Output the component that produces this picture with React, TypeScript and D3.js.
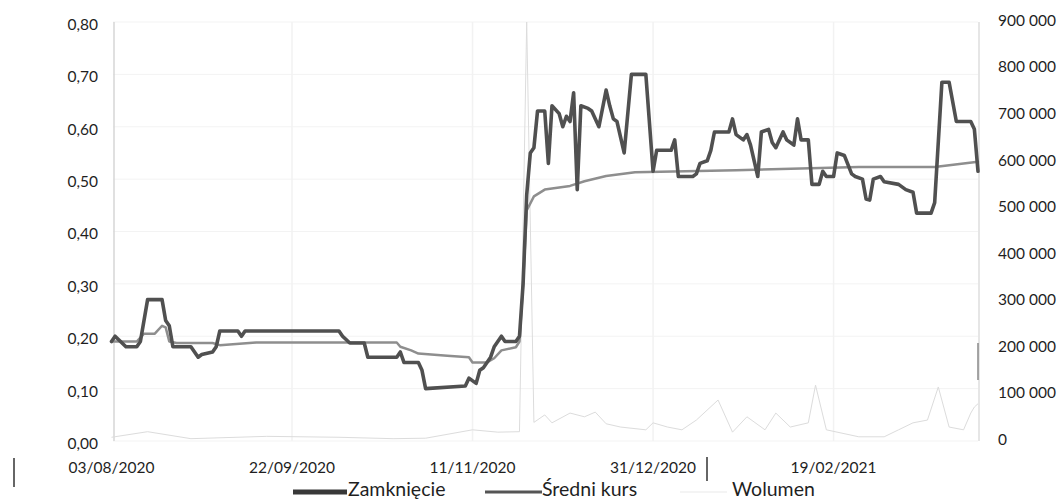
import React from "react";
import * as d3 from "d3";

// ---------- data ----------
const closeDates = [
  "2020-08-03","2020-08-04","2020-08-07","2020-08-10","2020-08-11","2020-08-13","2020-08-17","2020-08-18","2020-08-19","2020-08-20",
  "2020-08-25","2020-08-27","2020-08-28","2020-08-31","2020-09-01","2020-09-02","2020-09-07","2020-09-08","2020-09-09","2020-10-05",
  "2020-10-06","2020-10-08","2020-10-12","2020-10-13","2020-10-21","2020-10-22","2020-10-23","2020-10-27","2020-10-28","2020-10-29",
  "2020-11-09","2020-11-10","2020-11-12","2020-11-13","2020-11-14","2020-11-16","2020-11-17","2020-11-19","2020-11-20","2020-11-23",
  "2020-11-24","2020-11-25","2020-11-26","2020-11-27","2020-11-28","2020-11-29","2020-12-01","2020-12-02","2020-12-03","2020-12-05",
  "2020-12-06","2020-12-07","2020-12-08","2020-12-09","2020-12-10","2020-12-11","2020-12-13","2020-12-14","2020-12-16","2020-12-18",
  "2020-12-19","2020-12-20","2020-12-21","2020-12-23","2020-12-25","2020-12-29","2020-12-31","2021-01-01","2021-01-05","2021-01-06",
  "2021-01-07","2021-01-11","2021-01-12","2021-01-13","2021-01-15","2021-01-16","2021-01-17","2021-01-21","2021-01-22","2021-01-23",
  "2021-01-25","2021-01-26","2021-01-27","2021-01-29","2021-01-30","2021-02-01","2021-02-02","2021-02-03","2021-02-05","2021-02-06",
  "2021-02-08","2021-02-09","2021-02-10","2021-02-12","2021-02-13","2021-02-15","2021-02-16","2021-02-17","2021-02-19","2021-02-20",
  "2021-02-22","2021-02-24","2021-02-25","2021-02-27","2021-02-28","2021-03-01","2021-03-02","2021-03-04","2021-03-05","2021-03-09",
  "2021-03-11","2021-03-13","2021-03-14","2021-03-18","2021-03-19","2021-03-21","2021-03-23","2021-03-25","2021-03-29","2021-03-30",
  "2021-03-31",
];
const closeValues = [
  0.19,0.20,0.18,0.18,0.19,0.27,0.27,0.23,0.22,0.18,
  0.18,0.16,0.165,0.17,0.18,0.21,0.21,0.20,0.21,0.21,
  0.20,0.187,0.187,0.16,0.16,0.17,0.15,0.15,0.135,0.10,
  0.105,0.12,0.11,0.135,0.14,0.16,0.18,0.20,0.19,0.19,
  0.20,0.30,0.47,0.55,0.56,0.63,0.63,0.53,0.64,0.625,
  0.60,0.62,0.61,0.665,0.48,0.64,0.635,0.63,0.60,0.67,
  0.64,0.615,0.61,0.55,0.70,0.70,0.515,0.555,0.555,0.575,
  0.505,0.505,0.51,0.53,0.535,0.555,0.59,0.59,0.615,0.585,
  0.575,0.585,0.565,0.505,0.59,0.595,0.57,0.56,0.59,0.575,
  0.565,0.615,0.575,0.575,0.49,0.49,0.515,0.505,0.505,0.55,
  0.545,0.51,0.505,0.50,0.462,0.46,0.50,0.505,0.495,0.49,
  0.48,0.475,0.435,0.435,0.455,0.685,0.685,0.61,0.61,0.595,
  0.515,
];

const avgDates = [
  "2020-08-03","2020-08-10","2020-08-12","2020-08-15","2020-08-17","2020-08-18","2020-08-19","2020-08-21","2020-08-31","2020-09-02",
  "2020-09-12","2020-10-21","2020-10-22","2020-10-25","2020-10-27","2020-11-04","2020-11-10","2020-11-11","2020-11-15","2020-11-17",
  "2020-11-19","2020-11-23","2020-11-24","2020-11-25","2020-11-26","2020-11-28","2020-12-01","2020-12-08","2020-12-12","2020-12-18",
  "2020-12-26","2021-01-09","2021-01-23","2021-02-26","2021-03-19","2021-03-31",
];
const avgValues = [
  0.19,0.19,0.205,0.205,0.22,0.217,0.19,0.187,0.187,0.183,
  0.188,0.188,0.18,0.173,0.167,0.163,0.16,0.15,0.15,0.158,
  0.173,0.179,0.19,0.30,0.44,0.467,0.48,0.487,0.496,0.506,
  0.513,0.515,0.517,0.523,0.523,0.533,
];

const volDates = [
  "2020-08-03","2020-08-13","2020-08-25","2020-09-15","2020-10-05","2020-10-20","2020-10-29","2020-11-11","2020-11-18","2020-11-24",
  "2020-11-26","2020-11-28","2020-12-01","2020-12-03","2020-12-08","2020-12-12","2020-12-15","2020-12-18","2020-12-22","2020-12-29",
  "2020-12-31","2021-01-04","2021-01-08","2021-01-12","2021-01-18","2021-01-22","2021-01-26","2021-01-31","2021-02-03","2021-02-07",
  "2021-02-12","2021-02-14","2021-02-17","2021-02-26","2021-03-05","2021-03-09","2021-03-13","2021-03-17","2021-03-20","2021-03-23",
  "2021-03-27","2021-03-29","2021-03-30","2021-03-31",
];
const volValues = [
  8000,20000,5000,10000,8000,5000,6000,24000,19000,20000,
  900000,40000,56000,39000,60000,52000,62000,37000,30000,24000,
  39000,30000,24000,45000,88000,19000,52000,24000,60000,30000,
  39000,120000,24000,9000,9000,24000,39000,45000,116000,30000,
  24000,60000,73000,80000,
];

const xTickDates = ["2020-08-03", "2020-09-22", "2020-11-11", "2020-12-31", "2021-02-19"];
const leftTicks = [0, 0.1, 0.2, 0.3, 0.4, 0.5, 0.6, 0.7, 0.8];
const rightTicks = [0, 100000, 200000, 300000, 400000, 500000, 600000, 700000, 800000, 900000];
const seriesNames = ["Zamknięcie", "Średni kurs", "Wolumen"];

// ---------- chart ----------
const W = 1061;
const H = 501;
const FONT = "Lato, 'Open Sans', sans-serif";

const parse = d3.timeParse("%Y-%m-%d");
const fmtDate = d3.timeFormat("%d/%m/%Y");
const plLocale = d3.formatLocale({ decimal: ",", thousands: " ", grouping: [3], currency: ["", ""] });
const fmtLeft = plLocale.format(".2f");
const fmtRight = plLocale.format(",.0f");

export default function App() {
  const x = d3
    .scaleTime()
    .domain([parse("2020-08-03") as Date, parse("2021-03-31") as Date])
    .range([111.5, 978]);
  const yL = d3.scaleLinear().domain([0, 0.8]).range([441, 22]);
  const yR = d3.scaleLinear().domain([0, 900000]).range([441, 22]);

  const closeData = closeDates.map((d, i) => ({ d: parse(d) as Date, v: closeValues[i] }));
  const avgData = avgDates.map((d, i) => ({ d: parse(d) as Date, v: avgValues[i] }));
  const volData = volDates.map((d, i) => ({ d: parse(d) as Date, v: volValues[i] }));

  const lineL = d3
    .line<{ d: Date; v: number }>()
    .x((p) => x(p.d))
    .y((p) => yL(p.v));
  const lineR = d3
    .line<{ d: Date; v: number }>()
    .x((p) => x(p.d))
    .y((p) => Math.max(yR(p.v), 22));

  return (
    <svg
      width={W}
      height={H}
      viewBox={`0 0 ${W} ${H}`}
      style={{ position: "absolute", left: 0, top: 0, background: "#fff" }}
      fontFamily={FONT}
    >
      <rect x={0} y={0} width={W} height={H} fill="#fff" />

      {/* faint gridlines */}
      {leftTicks.map((t) => (
        <line key={"gh" + t} x1={113} x2={978} y1={yL(t)} y2={yL(t)} stroke="#f3f3f3" strokeWidth={1} />
      ))}
      {xTickDates.slice(1).map((t) => (
        <line key={"gv" + t} x1={x(parse(t) as Date)} x2={x(parse(t) as Date)} y1={22} y2={441} stroke="#f2f2f2" strokeWidth={1.5} />
      ))}

      {/* axis lines */}
      <line x1={114} x2={114} y1={22} y2={441} stroke="#d6d6d6" strokeWidth={1.5} />
      <line x1={979} x2={979} y1={22} y2={441} stroke="#dedede" strokeWidth={1.5} />

      {/* volume */}
      <path d={lineR(volData) || ""} fill="none" stroke="#dcdcdc" strokeWidth={1} />

      {/* average */}
      <path
        d={lineL(avgData) || ""}
        fill="none"
        stroke="#8e8e8e"
        strokeWidth={2.5}
        strokeLinejoin="round"
        strokeLinecap="round"
      />

      {/* close */}
      <path
        d={lineL(closeData) || ""}
        fill="none"
        stroke="#505050"
        strokeWidth={3.6}
        strokeLinejoin="round"
        strokeLinecap="round"
      />

      {/* left axis labels */}
      {leftTicks.map((t) => (
        <text
          key={"l" + t}
          x={98}
          y={yL(t) + 4}
          textAnchor="end"
          dominantBaseline="middle"
          fontSize={15.5}
          fill="#1f1f1f"
        >
          {fmtLeft(t)}
        </text>
      ))}

      {/* right axis labels */}
      {rightTicks.map((t) => (
        <text
          key={"r" + t}
          x={998}
          y={yR(t)}
          textAnchor="start"
          dominantBaseline="middle"
          fontSize={15.5}
          fill="#1f1f1f"
        >
          {fmtRight(t)}
        </text>
      ))}

      {/* x axis labels */}
      {xTickDates.map((t) => (
        <text key={"x" + t} x={x(parse(t) as Date)} y={473} textAnchor="middle" fontSize={15.5} fill="#1f1f1f">
          {fmtDate(parse(t) as Date)}
        </text>
      ))}

      {/* legend */}
      <line x1={293} x2={347} y1={492} y2={492} stroke="#383838" strokeWidth={5} />
      <text x={348} y={496} fontSize={19.5} fill="#1f1f1f">
        {seriesNames[0]}
      </text>
      <line x1={485} x2={542} y1={492} y2={492} stroke="#555" strokeWidth={3} />
      <text x={542} y={496} fontSize={19.5} fill="#1f1f1f">
        {seriesNames[1]}
      </text>
      <line x1={680} x2={727} y1={492} y2={492} stroke="#f0f0f0" strokeWidth={1.5} />
      <text x={732} y={496} fontSize={19.5} fill="#1f1f1f">
        {seriesNames[2]}
      </text>

      {/* scan marks */}
      <line x1={14} x2={14} y1={458} y2={487} stroke="#333" strokeWidth={1.5} />
      <line x1={707} x2={707} y1={457} y2={481} stroke="#333" strokeWidth={1.5} />
      <line x1={978} x2={978} y1={343} y2={380} stroke="#888" strokeWidth={1.5} />
    </svg>
  );
}
